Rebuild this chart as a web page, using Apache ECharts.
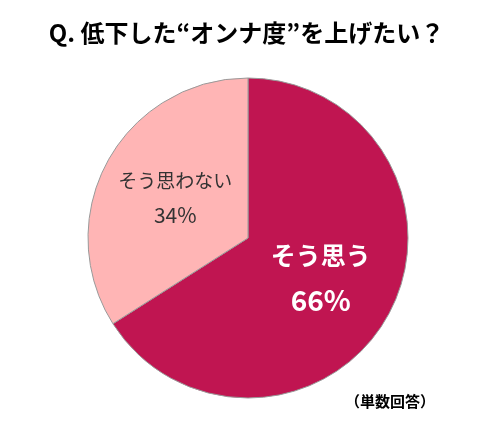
<!DOCTYPE html>
<html><head><meta charset="utf-8">
<script src="https://cdn.jsdelivr.net/npm/echarts@6/dist/echarts.min.js"></script>
<style>html,body{margin:0;padding:0;background:#fff}#c{width:493px;height:427px}</style>
</head><body><div id="c"></div>
<script>
const categories = ["そう思う", "そう思わない"];
const values = [66, 34];
const colors = ["#C01551", "#FFB5B5"];
const chart = echarts.init(document.getElementById('c'));
chart.setOption({
  animation: false,
  title: {text: "Q. 低下した“オンナ度”を上げたい？", left: 'center', top: 16,
    textStyle: {fontFamily: "Noto Sans CJK JP", fontSize: 24, fontWeight: 'bold', color: '#000'}},
  graphic: [{type: 'text', right: 58, top: 394, style: {text: '（単数回答）', font: 'bold 15px "Noto Sans CJK JP"', fill: '#000'}}],
  series: [{
    type: 'pie', center: [248, 238], radius: 160, startAngle: 90, clockwise: true,
    itemStyle: {borderColor: '#999', borderWidth: 1},
    label: {position: 'inside'},
    data: categories.map((c, i) => ({
      name: c, value: values[i], itemStyle: {color: colors[i]},
      label: i === 0
        ? {formatter: '{b}\n{d|{c}%}', color: '#fff', fontSize: 25, fontWeight: 'bold', fontFamily: 'Noto Sans CJK JP', lineHeight: 44,
           rich: {d: {fontSize: 28, fontWeight: 'bold', color: '#fff', fontFamily: 'Noto Sans CJK JP'}}}
        : {formatter: '{b}\n{d|{c}%}', color: '#333', fontSize: 19, fontFamily: 'Noto Sans CJK JP', lineHeight: 34,
           rich: {d: {fontSize: 21, color: '#333', fontFamily: 'Noto Sans CJK JP'}}}
    }))
  }]
});
</script></body></html>
